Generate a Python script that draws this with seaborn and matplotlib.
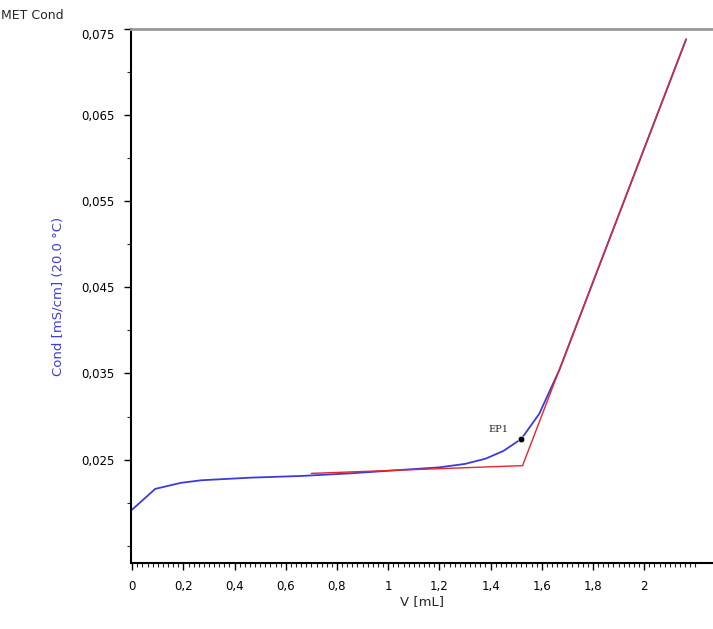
import numpy as np
import pandas as pd
import matplotlib
matplotlib.use("Agg")
import matplotlib.pyplot as plt
import seaborn as sns
from matplotlib.ticker import MultipleLocator, FixedLocator, FuncFormatter

# measured titration curve (blue)
vol_meas = [0.0, 0.09, 0.19, 0.27, 0.46, 0.66, 0.85, 1.05, 1.20, 1.30, 1.38, 1.45, 1.52, 1.59, 1.67, 1.80, 2.00, 2.164]
cond_meas = [0.0192, 0.0216, 0.0223, 0.0226, 0.0229, 0.0231, 0.0234, 0.0238, 0.0241, 0.0245, 0.0251, 0.0260,
             0.0274, 0.0303, 0.0355, 0.0456, 0.0611, 0.0738]

# fitted tangent lines (red)
vol_fit = [0.70, 1.525, 2.164]
cond_fit = [0.0234, 0.0243, 0.0738]

# equivalence point
ep_vol = [1.52]
ep_cond = [0.0274]
ep_label = "EP1"

x_ticks = [0, 0.2, 0.4, 0.6, 0.8, 1.0, 1.2, 1.4, 1.6, 1.8, 2.0]
y_ticks = [0.025, 0.035, 0.045, 0.055, 0.065, 0.075]

sns.set_style("white")
plt.rcParams['font.family'] = ['DejaVu Sans']

fig = plt.figure(figsize=(7.13, 6.29), dpi=100)
ax = fig.add_axes([0.184, 0.105, 0.816, 0.849])

meas = pd.DataFrame({"V": vol_meas, "Cond": cond_meas})
fit = pd.DataFrame({"V": vol_fit, "Cond": cond_fit})
sns.lineplot(data=meas, x="V", y="Cond", sort=False, color="#3b3bdc", linewidth=1.3, ax=ax)
sns.lineplot(data=fit, x="V", y="Cond", sort=False, color="#e8242c", linewidth=1.0, ax=ax)
sns.scatterplot(x=ep_vol, y=ep_cond, color="black", s=22, ax=ax, zorder=5)
ax.annotate(ep_label, (ep_vol[0], ep_cond[0]), xytext=(-24, 5), textcoords="offset points",
            fontsize=7, family="DejaVu Serif")

ax.set_xlim(-0.004, 2.269)
ax.set_ylim(0.013, 0.075)

ax.xaxis.set_major_locator(FixedLocator(x_ticks))
ax.xaxis.set_minor_locator(FixedLocator([i * 0.02 for i in range(111)]))
ax.set_yticks(y_ticks)
ax.yaxis.set_minor_locator(MultipleLocator(0.005))

def comma_x(v, pos):
    s = ("%.1f" % v).rstrip("0").rstrip(".")
    return s.replace(".", ",")

def comma_y(v, pos):
    return ("%.3f" % v).replace(".", ",")

ax.xaxis.set_major_formatter(FuncFormatter(comma_x))
ax.yaxis.set_major_formatter(FuncFormatter(comma_y))

ax.tick_params(axis="both", which="major", direction="out", length=5, width=1, labelsize=8.5,
               colors="black", pad=7)
ax.tick_params(axis="both", which="minor", direction="out", length=3, width=0.8)
ax.tick_params(axis="x", which="both", bottom=True)
ax.tick_params(axis="y", which="both", left=True)
for lbl in ax.get_yticklabels():
    if lbl.get_text() == "0,075":
        lbl.set_va("top")

for s in ["left", "bottom"]:
    ax.spines[s].set_color("black")
    ax.spines[s].set_linewidth(1.5)
ax.spines["right"].set_visible(False)
ax.spines["top"].set_color("#999999")
ax.spines["top"].set_linewidth(2)

ax.set_xlabel("V [mL]", fontsize=9.5, labelpad=2)
ax.set_ylabel("Cond [mS/cm] (20.0 °C)", fontsize=9.5, color="#3b3bdc", labelpad=12)
fig.text(0.002, 0.985, "MET Cond", fontsize=9, va="top", ha="left")

fig.savefig("out.png", dpi=100)
